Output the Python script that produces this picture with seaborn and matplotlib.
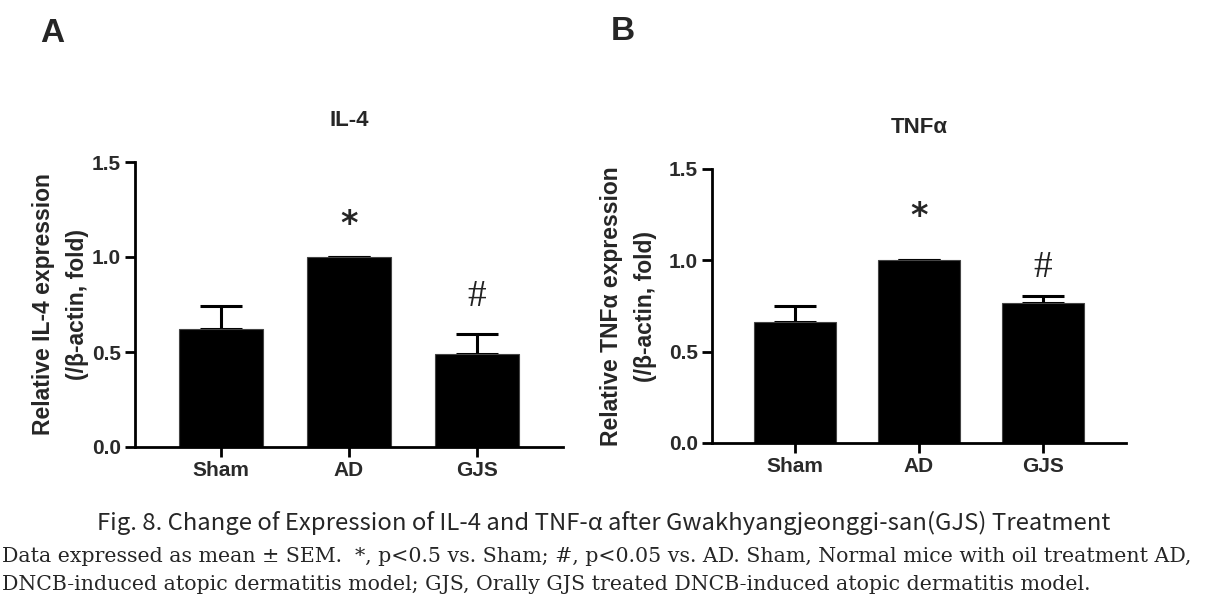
import numpy as np
import pandas as pd
import seaborn as sns
import matplotlib.pyplot as plt

groups = ['Sham', 'AD', 'GJS']
il4_mean = [0.62, 1.00, 0.49]
il4_sem = [0.12, 0.00, 0.105]
tnf_mean = [0.66, 1.00, 0.766]
tnf_sem = [0.09, 0.00, 0.04]
il4_marks = ['', '*', '#']
tnf_marks = ['', '*', '#']
yticks = [0.0, 0.5, 1.0, 1.5]

sns.set_theme(style='ticks')
plt.rcParams['font.family'] = ['Liberation Sans', 'DejaVu Sans']

fig = plt.figure(figsize=(12.07, 6.03), dpi=100)
W, H = 1207, 603

def px_axes(x0, y0, x1, y1):
    # pixel box, rows counted from the top
    return fig.add_axes([x0 / W, 1 - y1 / H, (x1 - x0) / W, (y1 - y0) / H])

def panel(ax, means, sems, marks, title, ylabel, mark_y, label_x):
    df = pd.DataFrame({'group': groups, 'value': means})
    sns.barplot(data=df, x='group', y='value', color='black', width=0.66,
                edgecolor='#444444', linewidth=0.8, errorbar=None, ax=ax, zorder=2)
    # SEM, upper side only
    ax.errorbar(range(len(groups)), means, yerr=[np.zeros(len(sems)), sems],
                fmt='none', ecolor='black', elinewidth=2.2, capsize=15, capthick=2.2, zorder=1)
    for i, m in enumerate(marks):
        if m == '*':
            ax.text(i, mark_y[i], '*', ha='center', va='center', fontsize=24,
                    fontweight='bold', family='DejaVu Sans')
        elif m == '#':
            ax.text(i, mark_y[i], '#', ha='center', va='center', fontsize=27,
                    family='Liberation Serif', color='#222222')
    ax.set_ylim(0, 1.5)
    ax.set_xlim(-0.67, 2.67)
    ax.set_yticks(yticks)
    ax.set_yticklabels([f'{t:.1f}' for t in yticks], fontsize=15, fontweight='bold', color='#2a2a2a')
    ax.set_xticks(range(len(groups)))
    ax.set_xticklabels(groups, fontsize=15, fontweight='bold', color='#2a2a2a')
    ax.set_xlabel('')
    ax.set_ylabel(ylabel, fontsize=16.5, fontweight='bold', linespacing=1.6)
    ax.yaxis.set_label_coords(label_x, 0.5)
    ax.set_title(title, fontsize=16, fontweight='bold', pad=26)
    sns.despine(ax=ax)
    for s in ['left', 'bottom']:
        ax.spines[s].set_linewidth(2)
        ax.spines[s].set_color('black')
    ax.tick_params(axis='both', direction='out', length=7, width=2, color='black', pad=3)

axA = px_axes(135, 162, 563, 447)
panel(axA, il4_mean, il4_sem, il4_marks, 'IL-4',
      'Relative IL-4 expression\n(/β-actin, fold)', [0, 1.17, 0.79], -0.108)

axB = px_axes(712, 169, 1126, 443)
panel(axB, tnf_mean, tnf_sem, tnf_marks, 'TNFα',
      'Relative TNFα expression\n(/β-actin, fold)', [0, 1.24, 0.96], -0.133)

fig.text(52 / W, 1 - 34 / H, 'A', fontsize=24, fontweight='bold', ha='center', va='center')
fig.text(623 / W, 1 - 32 / H, 'B', fontsize=24, fontweight='bold', ha='center', va='center')

fig.text(0.5, 1 - 523 / H,
         'Fig. 8. Change of Expression of IL-4 and TNF-α after Gwakhyangjeonggi-san(GJS) Treatment',
         ha='center', va='center', fontsize=17.2, family=['Noto Sans CJK KR', 'DejaVu Sans'])
fig.text(2 / W, 1 - 556 / H,
         'Data expressed as mean ± SEM.  *, p<0.5 vs. Sham; #, p<0.05 vs. AD. Sham, Normal mice with oil treatment AD,',
         ha='left', va='center', fontsize=14.8, family='DejaVu Serif')
fig.text(2 / W, 1 - 584 / H,
         'DNCB-induced atopic dermatitis model; GJS, Orally GJS treated DNCB-induced atopic dermatitis model.',
         ha='left', va='center', fontsize=14.8, family='DejaVu Serif')

fig.savefig('out.png', dpi=100, facecolor='white')
